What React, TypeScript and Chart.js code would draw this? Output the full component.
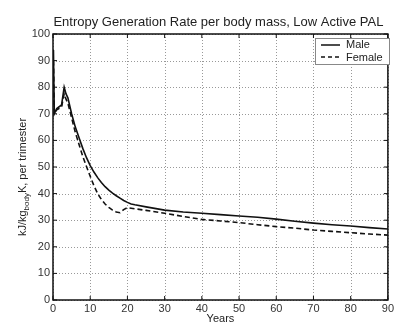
import React, { useEffect, useRef } from "react";
import { Chart, registerables } from "chart.js";

Chart.register(...registerables);

const years = [0.12, 0.35, 1, 2.3, 3, 3.5, 4, 5, 6, 7, 8, 9, 10, 11, 12, 13, 14, 15, 16, 17, 18, 19, 20, 21, 22, 25, 30, 35, 40, 45, 50, 55, 60, 65, 70, 75, 80, 85, 90];
const male = [94, 70, 72, 73.3, 80, 77.5, 76, 70, 65, 61, 57, 53.5, 50.5, 48.1, 46, 44.2, 42.6, 41.3, 40.2, 39.2, 38.3, 37.4, 36.7, 36.1, 35.8, 35, 33.8, 33.1, 32.6, 32.1, 31.6, 31.1, 30.4, 29.6, 28.9, 28.3, 27.8, 27.2, 26.7];
const female = [90, 70, 71.5, 72.5, 77.5, 75.5, 74, 68.5, 63, 58.5, 54, 50.2, 46.5, 43, 40, 37.8, 36.1, 34.8, 33.8, 33.1, 32.8, 34, 34.7, 34.5, 34.3, 33.7, 32.6, 31.4, 30.3, 29.7, 29.1, 28.3, 27.6, 27, 26.3, 25.8, 25.3, 24.8, 24.4];
const seriesNames = ["Male", "Female"];
const titleText = "Entropy Generation Rate per body mass, Low Active PAL";
const xLabel = "Years";
const yLabelParts = ["kJ/kg", "body", "K, per trimester"];
const xTicks = [0, 10, 20, 30, 40, 50, 60, 70, 80, 90];
const yTicks = [0, 10, 20, 30, 40, 50, 60, 70, 80, 90, 100];

const FONT = "'Liberation Sans', Arial, sans-serif";

const gridPlugin = {
  id: "dotgrid",
  beforeDatasetsDraw(chart: any) {
    const ctx = chart.ctx;
    const a = chart.chartArea;
    const xs = chart.scales.x;
    const ys = chart.scales.y;
    ctx.save();
    ctx.strokeStyle = "#999";
    ctx.lineWidth = 1;
    ctx.setLineDash([1, 2]);
    ctx.beginPath();
    for (const v of xTicks) {
      const px = Math.round(xs.getPixelForValue(v)) + 0.5;
      ctx.moveTo(px, a.top); ctx.lineTo(px, a.bottom);
    }
    for (const v of yTicks) {
      const py = Math.round(ys.getPixelForValue(v)) + 0.5;
      ctx.moveTo(a.left, py); ctx.lineTo(a.right, py);
    }
    ctx.stroke();
    ctx.restore();
  },
};

const decor = {
  id: "decor",
  afterDraw(chart: any) {
    const ctx = chart.ctx;
    const a = chart.chartArea;
    const xs = chart.scales.x;
    const ys = chart.scales.y;
    ctx.save();
    ctx.strokeStyle = "#111";
    ctx.lineWidth = 1.5;
    ctx.strokeRect(a.left, a.top, a.right - a.left, a.bottom - a.top);
    ctx.lineWidth = 1;
    ctx.beginPath();
    for (const v of xTicks) {
      const px = xs.getPixelForValue(v);
      ctx.moveTo(px, a.bottom); ctx.lineTo(px, a.bottom - 4);
      ctx.moveTo(px, a.top); ctx.lineTo(px, a.top + 4);
    }
    for (const v of yTicks) {
      const py = ys.getPixelForValue(v);
      ctx.moveTo(a.left, py); ctx.lineTo(a.left + 4, py);
      ctx.moveTo(a.right, py); ctx.lineTo(a.right - 4, py);
    }
    ctx.stroke();
    ctx.fillStyle = "#222";
    ctx.font = "13px " + FONT;
    ctx.textAlign = "center";
    ctx.textBaseline = "middle";
    ctx.fillText(titleText, (a.left + a.right) / 2 - 2, 22);
    ctx.font = "11px " + FONT;
    ctx.fillText(xLabel, (a.left + a.right) / 2, 319);
    ctx.save();
    ctx.translate(23, 177);
    ctx.rotate(-Math.PI / 2);
    ctx.textAlign = "left";
    ctx.textBaseline = "middle";
    const f1 = "11px " + FONT;
    const f2 = "8px " + FONT;
    ctx.font = f1;
    const w0 = ctx.measureText(yLabelParts[0]).width;
    const w2 = ctx.measureText(yLabelParts[2]).width;
    ctx.font = f2;
    const w1 = ctx.measureText(yLabelParts[1]).width;
    const x0 = -(w0 + w1 + w2) / 2;
    ctx.font = f1;
    ctx.fillText(yLabelParts[0], x0, 0);
    ctx.font = f2;
    ctx.fillText(yLabelParts[1], x0 + w0, 4);
    ctx.font = f1;
    ctx.fillText(yLabelParts[2], x0 + w0 + w1, 0);
    ctx.restore();
    const lx = 315, ly = 38, lw = 74, lh = 26;
    ctx.fillStyle = "#fff";
    ctx.fillRect(lx, ly, lw, lh);
    ctx.strokeStyle = "#888";
    ctx.lineWidth = 1;
    ctx.strokeRect(lx + 0.5, ly + 0.5, lw, lh);
    ctx.strokeStyle = "#111";
    ctx.lineWidth = 1.5;
    ctx.beginPath();
    ctx.moveTo(321, 45); ctx.lineTo(340, 45);
    ctx.stroke();
    ctx.setLineDash([4, 3]);
    ctx.beginPath();
    ctx.moveTo(321, 57); ctx.lineTo(340, 57);
    ctx.stroke();
    ctx.setLineDash([]);
    ctx.fillStyle = "#222";
    ctx.font = "11px " + FONT;
    ctx.textAlign = "left";
    ctx.textBaseline = "middle";
    ctx.fillText(seriesNames[0], 346, 45);
    ctx.fillText(seriesNames[1], 346, 58);
    ctx.restore();
  },
};

export default function App() {
  const ref = useRef<HTMLCanvasElement>(null);
  useEffect(() => {
    document.body.style.margin = "0";
    const canvas = ref.current!;
    const chart = new Chart(canvas, {
      type: "line",
      data: {
        datasets: [
          {
            label: seriesNames[0],
            data: years.map((x, i) => ({ x, y: male[i] })),
            borderColor: "#111",
            borderWidth: 1.6,
            pointRadius: 0,
            tension: 0,
          },
          {
            label: seriesNames[1],
            data: years.map((x, i) => ({ x, y: female[i] })),
            borderColor: "#111",
            borderWidth: 1.6,
            borderDash: [5, 3],
            pointRadius: 0,
            tension: 0,
          },
        ],
      },
      options: {
        animation: false,
        responsive: false,
        layout: { padding: { top: 34, right: 6, left: 0, bottom: 0 } },
        plugins: { legend: { display: false }, tooltip: { enabled: false }, title: { display: false } },
        scales: {
          x: {
            type: "linear",
            min: 0,
            max: 90,
            ticks: { stepSize: 10, color: "#333", font: { size: 11, family: FONT }, padding: 2, maxRotation: 0 },
            grid: { display: false, drawTicks: false },
            border: { display: false },
            afterFit: (axis: any) => { axis.height = 22; },
          },
          y: {
            min: 0,
            max: 100,
            ticks: { stepSize: 10, color: "#333", font: { size: 11, family: FONT }, padding: 3 },
            grid: { display: false, drawTicks: false },
            border: { display: false },
            afterFit: (axis: any) => { axis.width = 53; },
          },
        },
      },
      plugins: [gridPlugin, decor],
    });
    return () => chart.destroy();
  }, []);
  return (
    <div style={{ position: "absolute", left: 0, top: 0, width: 396, height: 322, background: "#fff" }}>
      <canvas ref={ref} width={396} height={322} style={{ width: 396, height: 322 }} />
    </div>
  );
}
